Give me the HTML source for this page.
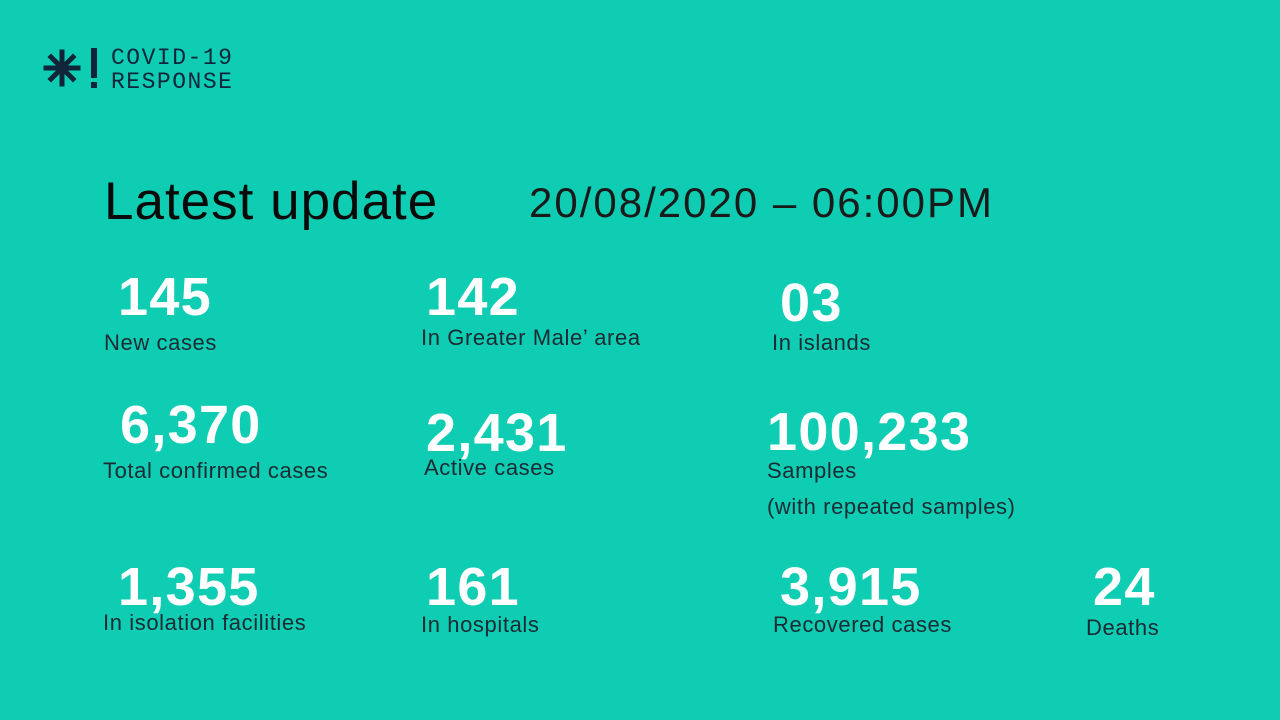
<!DOCTYPE html>
<html><head><style>
body{margin:0;width:1280px;height:720px;background:#0ecdb2;position:relative;overflow:hidden;font-family:"Liberation Sans",sans-serif}
div{position:absolute;white-space:nowrap;line-height:1}
.n{font-size:54px;font-weight:bold;color:#fff;letter-spacing:1.3px;margin-top:-2px}
.l{font-size:22px;color:#1d2a33;letter-spacing:0.6px;margin-top:-1px}
</style></head><body>
<svg style="position:absolute;left:40px;top:46px" width="64" height="46" viewBox="0 0 64 46">
<g stroke="#10243a" stroke-width="5" stroke-linecap="square">
<line x1="22" y1="6" x2="22" y2="38"/><line x1="6" y1="22" x2="38" y2="22"/>
<line x1="11" y1="11" x2="33" y2="33"/><line x1="33" y1="11" x2="11" y2="33"/></g>
<rect x="51" y="2" width="6" height="30" fill="#10243a"/><rect x="51" y="36" width="6" height="6" fill="#10243a"/>
</svg>
<div style="left:111px;top:46px;font-family:'Liberation Mono',monospace;font-size:23px;color:#10243a;line-height:24px;letter-spacing:1.5px">COVID-19<br>RESPONSE</div>
<div style="left:104px;top:175px;font-size:53px;color:#0a0a0a;letter-spacing:1px">Latest update</div>
<div style="left:529px;top:182px;font-size:42px;color:#1a1a1a;letter-spacing:2px">20/08/2020 – 06:00PM</div>
<div class="n" style="left:118px;top:272px">145</div>
<div class="n" style="left:426px;top:272px">142</div>
<div class="n" style="left:780px;top:278px">03</div>
<div class="n" style="left:120px;top:400px">6,370</div>
<div class="n" style="left:426px;top:408px">2,431</div>
<div class="n" style="left:767px;top:407px">100,233</div>
<div class="n" style="left:118px;top:562px">1,355</div>
<div class="n" style="left:426px;top:562px">161</div>
<div class="n" style="left:780px;top:562px">3,915</div>
<div class="n" style="left:1093px;top:562px">24</div>
<div class="l" style="left:104px;top:333px">New cases</div>
<div class="l" style="left:421px;top:328px">In Greater Male’ area</div>
<div class="l" style="left:772px;top:333px">In islands</div>
<div class="l" style="left:103px;top:461px">Total confirmed cases</div>
<div class="l" style="left:424px;top:458px">Active cases</div>
<div class="l" style="left:767px;top:461px">Samples</div>
<div class="l" style="left:767px;top:497px">(with repeated samples)</div>
<div class="l" style="left:103px;top:613px">In isolation facilities</div>
<div class="l" style="left:421px;top:615px">In hospitals</div>
<div class="l" style="left:773px;top:615px">Recovered cases</div>
<div class="l" style="left:1086px;top:618px">Deaths</div>
</body></html>
